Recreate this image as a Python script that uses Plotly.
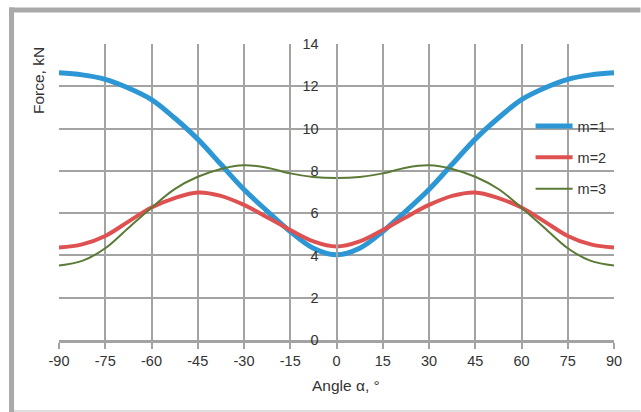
import plotly.graph_objects as go

# Angle of rotation, degrees
angle = [-90, -82.5, -75, -67.5, -60, -52.5, -45, -37.5, -30, -22.5, -15, -7.5, 0,
         7.5, 15, 22.5, 30, 37.5, 45, 52.5, 60, 67.5, 75, 82.5, 90]

# Force for each harmonic order m, kN
force_m1 = [12.64, 12.54, 12.33, 11.92, 11.37, 10.50, 9.50, 8.31, 7.12, 6.10, 5.13, 4.34, 4.03,
            4.34, 5.13, 6.10, 7.12, 8.31, 9.50, 10.50, 11.37, 11.92, 12.33, 12.54, 12.64]
force_m2 = [4.37, 4.52, 4.92, 5.60, 6.27, 6.71, 6.98, 6.82, 6.39, 5.81, 5.20, 4.66, 4.42,
            4.66, 5.20, 5.81, 6.39, 6.82, 6.98, 6.71, 6.27, 5.60, 4.92, 4.52, 4.37]
force_m3 = [3.52, 3.74, 4.34, 5.30, 6.26, 7.14, 7.72, 8.09, 8.26, 8.15, 7.88, 7.71, 7.66,
            7.71, 7.88, 8.15, 8.26, 8.09, 7.72, 7.14, 6.26, 5.30, 4.34, 3.74, 3.52]

x_ticks = list(range(-90, 91, 15))
y_ticks = list(range(0, 15, 2))

series = [
    ("m=1", force_m1, "#2c97d4", 5),
    ("m=2", force_m2, "#df5050", 4),
    ("m=3", force_m3, "#5b7a36", 2),
]

W, H = 641, 412
L, R, T, B = 59, 26.5, 44, 72
pw, ph = W - L - R, H - T - B


def px(x):
    return (x - L) / pw


def py(y):
    return (H - B - y) / ph


fig = go.Figure()
for i, (name, vals, color, width) in enumerate(series):
    fig.add_trace(go.Scatter(
        x=angle, y=vals, name=name, mode="lines",
        line=dict(color=color, width=width, shape="spline", smoothing=1.0),
        legendgroup=f"g{i}",
    ))

grid = "#a3a3a3"
font = "Liberation Sans, Arial, sans-serif"
txt = "#333333"

fig.update_layout(
    width=W, height=H,
    margin=dict(l=L, r=R, t=T, b=B),
    paper_bgcolor="white", plot_bgcolor="white",
    font=dict(family=font, size=14, color=txt),
    showlegend=True,
    legend=dict(
        x=px(531), y=py(110), xanchor="left", yanchor="top",
        bgcolor="rgba(0,0,0,0)", borderwidth=0,
        font=dict(family=font, size=14.5, color=txt),
        itemwidth=37,
        tracegroupgap=9.5,
    ),
    xaxis=dict(
        range=[-90, 90], tickvals=x_ticks, ticktext=[str(v) for v in x_ticks],
        showgrid=True, gridcolor=grid, gridwidth=2,
        zeroline=False,
        showline=True, linecolor=grid, linewidth=3,
        ticks="outside", ticklen=6, tickwidth=2, tickcolor=grid,
        tickfont=dict(family=font, size=14.5, color=txt),
    ),
    yaxis=dict(
        range=[0, 14], tickvals=y_ticks, ticktext=[str(v) for v in y_ticks],
        anchor="free", position=0.5, side="left",
        showgrid=True, gridcolor=grid, gridwidth=2,
        zeroline=False,
        showline=True, linecolor=grid, linewidth=2,
        ticks="", ticklabelstandoff=14,
        tickfont=dict(family=font, size=14.5, color=txt),
    ),
    shapes=[
        dict(type="rect", xref="paper", yref="paper",
             x0=px(9), x1=px(641), y0=py(7.5), y1=py(12.5),
             fillcolor="#a9a9a9", line=dict(width=0)),
        dict(type="rect", xref="paper", yref="paper",
             x0=px(9), x1=px(14), y0=py(7.5), y1=py(412),
             fillcolor="#a9a9a9", line=dict(width=0)),
        dict(type="rect", xref="paper", yref="paper",
             x0=px(14), x1=px(641), y0=py(410), y1=py(412),
             fillcolor="#dddddd", line=dict(width=0)),
    ],
    annotations=[
        dict(text="Angle α, °", xref="paper", yref="paper",
             x=px(346.5), y=py(385), xanchor="center", yanchor="middle",
             showarrow=False, font=dict(family=font, size=15.5, color=txt)),
        dict(text="Force, kN", xref="paper", yref="paper",
             x=px(38), y=py(81), xanchor="center", yanchor="middle",
             textangle=-90, showarrow=False,
             font=dict(family=font, size=15.5, color=txt)),
    ],
)

fig.write_html("out.html")
